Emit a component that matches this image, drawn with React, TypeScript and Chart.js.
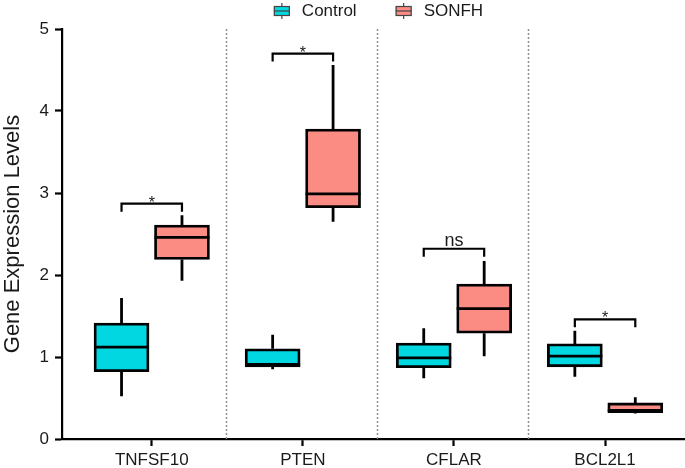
import React, { useEffect, useRef } from 'react';
import { Chart, registerables } from 'chart.js';

Chart.register(...registerables);

// ---------- data ----------
const categories = ['TNFSF10', 'PTEN', 'CFLAR', 'BCL2L1'];
const seriesNames = ['Control', 'SONFH'];
const yTicks = [0, 1, 2, 3, 4, 5];

const controlMin = [0.52, 0.85, 0.74, 0.76];
const controlQ1 = [0.82, 0.88, 0.87, 0.88];
const controlMedian = [1.12, 0.91, 0.99, 1.01];
const controlQ3 = [1.415, 1.1, 1.17, 1.16];
const controlMax = [1.72, 1.27, 1.35, 1.32];

const sonfhMin = [1.93, 2.65, 1.01, 0.31];
const sonfhQ1 = [2.19, 2.82, 1.29, 0.32];
const sonfhMedian = [2.46, 2.99, 1.59, 0.35];
const sonfhQ3 = [2.61, 3.78, 1.89, 0.44];
const sonfhMax = [2.73, 4.56, 2.17, 0.51];

const significance = ['*', '*', 'ns', '*'];
const bracketY = [2.87, 4.7, 2.32, 1.46];

// ---------- style ----------
const CONTROL_COLOR = '#00D7E0';
const SONFH_COLOR = '#FA8C84';
const colors = [CONTROL_COLOR, SONFH_COLOR];
const FONT = 'Arial, "Liberation Sans", sans-serif';
const TEXT = '#1a1a1a';
const GROUP_OFFSET = 0.2;
const LINE_W = 2.8;

const stats = [
  { min: controlMin, med: controlMedian, max: controlMax },
  { min: sonfhMin, med: sonfhMedian, max: sonfhMax },
];

const boxPlugin = {
  id: 'boxExtras',
  beforeDatasetsDraw(chart: any) {
    const { ctx, chartArea, scales } = chart;
    const x = scales.x;
    const y = scales.y;
    ctx.save();
    // dashed separators
    ctx.strokeStyle = '#8f8f8f';
    ctx.lineWidth = 1.5;
    ctx.setLineDash([2, 2]);
    for (let i = 0; i < categories.length - 1; i++) {
      const px = Math.round(x.getPixelForValue(i + 0.49)) + 0.5;
      ctx.beginPath();
      ctx.moveTo(px, chartArea.top);
      ctx.lineTo(px, chartArea.bottom);
      ctx.stroke();
    }
    ctx.setLineDash([]);
    // whiskers
    ctx.strokeStyle = '#000';
    ctx.lineWidth = LINE_W;
    stats.forEach((s, d) => {
      const meta = chart.getDatasetMeta(d);
      meta.data.forEach((el: any, i: number) => {
        const lo = d === 0 ? controlQ1[i] : sonfhQ1[i];
        const hi = d === 0 ? controlQ3[i] : sonfhQ3[i];
        ctx.beginPath();
        ctx.moveTo(el.x, y.getPixelForValue(s.max[i]));
        ctx.lineTo(el.x, y.getPixelForValue(hi));
        ctx.moveTo(el.x, y.getPixelForValue(lo));
        ctx.lineTo(el.x, y.getPixelForValue(s.min[i]));
        ctx.stroke();
      });
    });
    ctx.restore();
  },
  afterDatasetsDraw(chart: any) {
    const { ctx, scales } = chart;
    const y = scales.y;
    ctx.save();
    ctx.strokeStyle = '#000';
    ctx.lineWidth = LINE_W;
    stats.forEach((s, d) => {
      const meta = chart.getDatasetMeta(d);
      meta.data.forEach((el: any, i: number) => {
        const py = y.getPixelForValue(s.med[i]);
        const hw = el.width / 2;
        ctx.beginPath();
        ctx.moveTo(el.x - hw, py);
        ctx.lineTo(el.x + hw, py);
        ctx.stroke();
      });
    });
    // significance brackets
    ctx.lineWidth = 2.2;
    ctx.fillStyle = TEXT;
    ctx.textAlign = 'center';
    ctx.textBaseline = 'alphabetic';
    categories.forEach((_, i) => {
      const x0 = chart.getDatasetMeta(0).data[i].x;
      const x1 = chart.getDatasetMeta(1).data[i].x;
      const by = y.getPixelForValue(bracketY[i]);
      ctx.beginPath();
      ctx.moveTo(x0, by + 8);
      ctx.lineTo(x0, by);
      ctx.lineTo(x1, by);
      ctx.lineTo(x1, by + 8);
      ctx.stroke();
      const label = significance[i];
      if (label === '*') {
        ctx.font = `16px ${FONT}`;
        ctx.fillText(label, (x0 + x1) / 2, by + 4);
      } else {
        ctx.font = `18px ${FONT}`;
        ctx.fillText(label, (x0 + x1) / 2, by - 3);
      }
    });
    ctx.restore();
  },
  afterDraw(chart: any) {
    // legend with box-plot icons
    const { ctx, chartArea } = chart;
    ctx.save();
    ctx.font = `17px ${FONT}`;
    const iconW = 16;
    const iconGap = 12;
    const itemGap = 39;
    const widths = seriesNames.map((n) => ctx.measureText(n).width);
    const total =
      widths.reduce((a, w) => a + iconW + iconGap + w, 0) + itemGap * (seriesNames.length - 1);
    let x = (chartArea.left + chartArea.right) / 2 + 5 - total / 2;
    const cy = 11;
    seriesNames.forEach((n, i) => {
      ctx.strokeStyle = '#444';
      ctx.lineWidth = 1.2;
      ctx.beginPath();
      ctx.moveTo(x + iconW / 2, cy - 8);
      ctx.lineTo(x + iconW / 2, cy + 8);
      ctx.stroke();
      ctx.fillStyle = colors[i];
      ctx.fillRect(x, cy - 4.5, iconW, 9);
      ctx.strokeRect(x + 0.5, cy - 4.5, iconW - 1, 9);
      ctx.beginPath();
      ctx.moveTo(x, cy);
      ctx.lineTo(x + iconW, cy);
      ctx.stroke();
      ctx.fillStyle = TEXT;
      ctx.textAlign = 'left';
      ctx.textBaseline = 'alphabetic';
      ctx.fillText(n, x + iconW + iconGap, 16);
      x += iconW + iconGap + widths[i] + itemGap;
    });
    ctx.restore();
  },
};

export default function App() {
  const ref = useRef<HTMLCanvasElement | null>(null);

  useEffect(() => {
    if (!ref.current) return;
    const chart = new Chart(ref.current, {
      type: 'bar',
      data: {
        datasets: [
          {
            label: seriesNames[0],
            data: categories.map((_, i) => ({ x: i - GROUP_OFFSET, y: [controlQ1[i], controlQ3[i]] })) as any,
            backgroundColor: CONTROL_COLOR,
            borderColor: '#000',
            borderWidth: LINE_W,
            borderSkipped: false,
            barThickness: 55,
            grouped: false,
          },
          {
            label: seriesNames[1],
            data: categories.map((_, i) => ({ x: i + GROUP_OFFSET, y: [sonfhQ1[i], sonfhQ3[i]] })) as any,
            backgroundColor: SONFH_COLOR,
            borderColor: '#000',
            borderWidth: LINE_W,
            borderSkipped: false,
            barThickness: 55,
            grouped: false,
          },
        ],
      },
      options: {
        responsive: false,
        animation: false,
        events: [],
        layout: { padding: { top: 29, left: 0, right: 0, bottom: 0 } },
        plugins: {
          legend: { display: false },
          tooltip: { enabled: false },
        },
        scales: {
          x: {
            type: 'linear',
            offset: false,
            min: -0.594,
            max: 3.529,
            afterBuildTicks: (s: any) => {
              s.ticks = categories.map((_, i) => ({ value: i }));
            },
            afterFit: (s: any) => {
              s.height = 29;
            },
            ticks: {
              callback: (v: any) => categories[v] ?? '',
              font: { size: 17, family: FONT },
              color: TEXT,
              padding: 4,
              autoSkip: false,
              maxRotation: 0,
            },
            grid: {
              display: true,
              offset: false,
              drawOnChartArea: false,
              drawTicks: true,
              tickLength: 7,
              tickWidth: 2.2,
              tickColor: '#000',
            },
            border: { display: true, color: '#000', width: 2.2 },
          },
          y: {
            min: 0,
            max: 5,
            afterBuildTicks: (s: any) => {
              s.ticks = yTicks.map((v) => ({ value: v }));
            },
            afterFit: (s: any) => {
              s.width = 62;
            },
            ticks: {
              font: { size: 17, family: FONT },
              color: TEXT,
              padding: 6,
            },
            grid: {
              display: true,
              drawOnChartArea: false,
              drawTicks: true,
              tickLength: 7,
              tickWidth: 2.2,
              tickColor: '#000',
            },
            border: { display: true, color: '#000', width: 2.2 },
            title: {
              display: true,
              text: 'Gene Expression Levels',
              font: { size: 22, family: FONT },
              color: TEXT,
              padding: 0,
            },
          },
        },
      } as any,
      plugins: [boxPlugin],
    });
    return () => chart.destroy();
  }, []);

  return (
    <div style={{ position: 'absolute', left: 0, top: 0, width: 685, height: 468, background: '#fff' }}>
      <canvas ref={ref} width={685} height={468} style={{ display: 'block' }} />
    </div>
  );
}
